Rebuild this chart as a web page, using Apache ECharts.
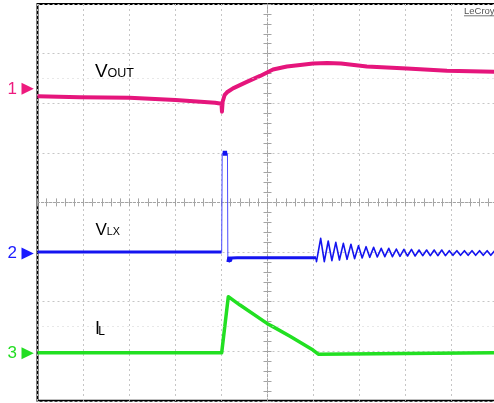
<!DOCTYPE html>
<html>
<head>
<meta charset="utf-8" />
<title>VOUT / VLX / IL</title>
<style>
html, body { margin: 0; padding: 0; background: #fff; }
#chart { width: 494px; height: 403px; }
</style>
</head>
<body>
<div id="chart"></div>
<script src="https://cdn.jsdelivr.net/npm/echarts@6/dist/echarts.min.js"></script>
<script>
// all values in screen divisions: time -5..5, amplitude -4..4
var voutData = [
  [-5.0, 2.14], [-4.08, 2.12], [-3.0, 2.11], [-2.0, 2.065], [-1.14, 2.01], [-1.0, 1.99],
  [-0.99, 1.83], [-0.975, 2.03], [-0.93, 2.17], [-0.88, 2.22], [-0.75, 2.30], [-0.45, 2.43],
  [-0.16, 2.55], [0.12, 2.68], [0.42, 2.74], [0.71, 2.77], [0.99, 2.80], [1.3, 2.81],
  [1.6, 2.80], [2.16, 2.74], [3.03, 2.70], [3.9, 2.655], [5.0, 2.635]
];
var vlxBefore = [[-5.0, -1.0], [-0.996, -1.0]];
var vlxPulse = [[-0.996, -1.0], [-0.985, 0.99], [-0.87, 0.99], [-0.862, -1.2]];
var vlxTop = [[-0.974, 0.99], [-0.878, 0.99]];
var vlxAfter = [
  [-0.862, -1.2], [-0.845, -1.12], [-0.83, -1.18], [-0.815, -1.12], [-0.80, -1.17],
  [-0.785, -1.12], [-0.77, -1.15], [-0.66, -1.115], [1.054, -1.115]
];
var vlxRing = [
  [1.054, -1.115], [1.065, -1.195],
  [1.156, -0.724], [1.235, -1.195], [1.320, -0.778], [1.400, -1.175],
  [1.485, -0.805], [1.564, -1.161], [1.649, -0.825], [1.729, -1.148],
  [1.814, -0.845], [1.893, -1.134], [1.978, -0.872], [2.058, -1.121],
  [2.143, -0.893], [2.222, -1.108], [2.307, -0.906], [2.387, -1.101],
  [2.472, -0.926], [2.551, -1.094], [2.636, -0.926], [2.716, -1.094],
  [2.801, -0.940], [2.880, -1.087], [2.965, -0.946], [3.045, -1.081],
  [3.130, -0.946], [3.209, -1.081], [3.294, -0.960], [3.374, -1.074],
  [3.459, -0.960], [3.538, -1.074], [3.623, -0.960], [3.703, -1.074],
  [3.788, -0.960], [3.867, -1.074], [3.952, -0.973], [4.032, -1.067],
  [4.117, -0.973], [4.196, -1.067], [4.281, -0.973], [4.361, -1.067],
  [4.446, -0.973], [4.525, -1.067], [4.610, -0.973], [4.690, -1.067],
  [4.775, -0.973], [4.854, -1.067], [4.939, -0.973], [5.019, -1.067]
];
var ilData = [
  [-5.0, -3.03], [-0.996, -3.03], [-0.852, -1.9], [-0.598, -2.07], [-0.011, -2.44],
  [0.126, -2.51], [0.489, -2.70], [0.989, -2.976], [1.104, -3.06], [1.14, -3.03], [5.0, -3.03]
];
var markerLevels = [2.29, -1.03, -3.04];
var markerNames = ['1', '2', '3'];
var halfLines = [2.5, -2.5];

var colVout = '#e5157c', colVlx = '#1414f0', colIl = '#22e022';
var markerColors = ['#ee1a7e', '#1a1aff', '#22dd22'];

var chart = echarts.init(document.getElementById('chart'));

function centerAxis(pos, min, max, main) {
  return {
    type: 'value', position: pos, min: min, max: max, interval: 1,
    axisLine: { show: true, onZero: true, onZeroAxisIndex: 0,
      lineStyle: { color: '#a4a4a4', width: 1, type: [2, 2] } },
    axisTick: { show: true, length: 4, lineStyle: { color: '#a4a4a4' } },
    minorTick: { show: true, splitNumber: 5, length: 4, lineStyle: { color: '#a4a4a4' } },
    axisLabel: { show: false },
    splitLine: { show: main, lineStyle: { color: '#c6c6c6', width: 1, type: [2, 3] } },
    minorSplitLine: { show: false }
  };
}

function line(data, color, width, extra) {
  var s = {
    type: 'line', data: data, symbol: 'none', showSymbol: false, silent: true,
    lineStyle: { color: color, width: width, join: 'round' }, animation: false
  };
  for (var k in extra) s[k] = extra[k];
  return s;
}

var option = {
  animation: false,
  grid: { left: 37.5, top: 4, width: 460, height: 396.8, show: true,
    borderColor: '#000', borderWidth: 2, backgroundColor: '#fff',
    containLabel: false, outerBoundsMode: 'none' },
  xAxis: [centerAxis('bottom', -5, 5, true), centerAxis('top', -5, 5, false)],
  yAxis: [centerAxis('left', -4, 4, true), centerAxis('right', -4, 4, false)],
  series: [
    line(ilData, colIl, 3.5, {
      markLine: { silent: true, symbol: 'none', label: { show: false },
        lineStyle: { color: '#d0d0d0', width: 1, type: [1, 4] },
        data: halfLines.map(function (v) { return { yAxis: v }; }) }
    }),
    line(vlxBefore, colVlx, 3),
    line(vlxPulse, '#4a4aff', 1),
    line(vlxTop, colVlx, 5),
    line(vlxAfter, colVlx, 3),
    line(vlxRing, colVlx, 1.6),
    line(voutData, colVout, 4)
  ]
};
chart.setOption(option);

var txt = function (x, y, s, size, fill) {
  return { type: 'text', x: x, y: y, silent: true, z: 100,
    style: { text: s, fontSize: size, fontFamily: 'Liberation Sans, Arial, sans-serif',
      fill: fill || '#000', align: 'left', verticalAlign: 'middle',
      textAlign: 'left', textVerticalAlign: 'middle' } };
};

var graphics = [
  txt(95, 72, 'V', 19), txt(107.5, 74, 'OUT', 12.5),
  txt(95.5, 230.1, 'V', 17), txt(106.8, 232.4, 'LX', 10.8),
  txt(95, 329, 'I', 18), txt(98.3, 331.8, 'L', 12),
  txt(464, 11.3, 'LeCroy', 9.5, '#555'),
  { type: 'line', silent: true, z: 100, shape: { x1: 464, y1: 15.8, x2: 494, y2: 15.8 },
    style: { stroke: '#777', lineWidth: 1 } }
];
markerLevels.forEach(function (lv, i) {
  var c = chart.convertToPixel({ gridIndex: 0 }, [-5, lv])[1];
  graphics.push(txt(7.5, c + 0.3, markerNames[i], 17, markerColors[i]));
  graphics.push({ type: 'polygon', silent: true, z: 100,
    shape: { points: [[21.5, c - 6], [33.8, c], [21.5, c + 6]] },
    style: { fill: markerColors[i] } });
});
chart.setOption({ graphic: graphics });
</script>
</body>
</html>
